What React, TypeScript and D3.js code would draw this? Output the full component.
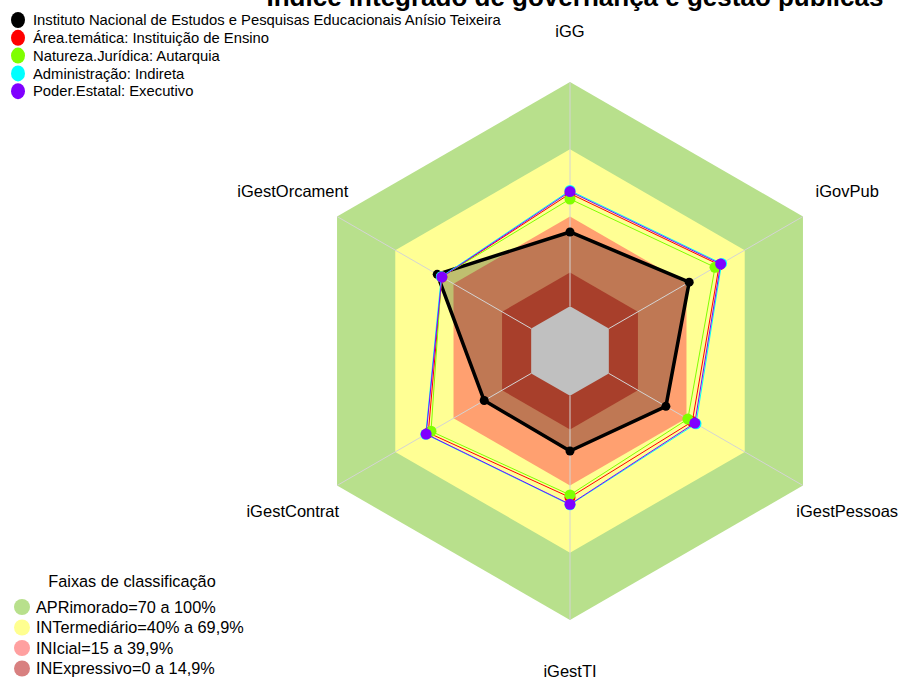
import { useEffect, useRef } from 'react';
import * as d3 from 'd3';

const axes = ['iGG', 'iGovPub', 'iGestPessoas', 'iGestTI', 'iGestContrat', 'iGestOrcament'];

const seriesNames = [
  'Instituto Nacional de Estudos e Pesquisas Educacionais Anísio Teixeira',
  'Área.temática: Instituição de Ensino',
  'Natureza.Jurídica: Autarquia',
  'Administração: Indireta',
  'Poder.Estatal: Executivo',
];
const seriesColors = ['#000000', '#ff0000', '#7fff00', '#00ffff', '#8000ff'];

const inep = [33.1, 41.4, 29.4, 24.6, 24.2, 48.4];
const areaTematica = [50.2, 56.9, 43.0, 45.3, 53.0, 46.0];
const natureza = [47.8, 54.7, 40.7, 44.2, 51.6, 46.2];
const administracao = [51.6, 58.1, 44.9, 48.6, 54.3, 46.3];
const poder = [51.1, 57.6, 44.3, 48.4, 54.1, 46.0];
const seriesValues = [inep, areaTematica, natureza, administracao, poder];

const bandLimits = [100, 70, 40, 15, 0];
const bandFills = ['#b8e08c', '#ffff94', '#ffa070', '#e0553a', '#c0c0c0'];

const faixaLabels = [
  'APRimorado=70 a 100%',
  'INTermediário=40% a 69,9%',
  'INIcial=15 a 39,9%',
  'INExpressivo=0 a 14,9%',
];
const faixaColors = ['#b8e08c', '#ffff90', '#ffa0a0', '#d88080'];

export default function App() {
  const svgRef = useRef<SVGSVGElement>(null);

  useEffect(() => {
    if (!svgRef.current) return;
    const width = 903;
    const height = 682;
    const cx = 570;
    const cy = 351;
    const R = 269;

    const svg = d3.select(svgRef.current);
    svg.selectAll('*').remove();
    svg.attr('width', width).attr('height', height)
      .style('font-family', '"Liberation Sans", Arial, sans-serif');

    const r = d3.scaleLinear().domain([0, 100]).range([R / 6, R]);
    const angle = d3.scaleLinear().domain([0, axes.length]).range([-Math.PI / 2, 1.5 * Math.PI]);
    const pt = (v: number, i: number): [number, number] =>
      [cx + r(v) * Math.cos(angle(i)), cy + r(v) * Math.sin(angle(i))];
    const ring = (v: number) => axes.map((_, i) => pt(v, i));
    const line = d3.line<[number, number]>().curve(d3.curveLinearClosed);

    const g = svg.append('g');

    // faixas
    bandLimits.forEach((b, k) => {
      if (k === bandLimits.length - 1) return;
      g.append('path').attr('d', line(ring(b))).attr('fill', bandFills[k]);
    });

    // INEP fill (translucent)
    g.append('path')
      .attr('d', line(inep.map((v, i) => pt(v, i))))
      .attr('fill', 'rgba(0,0,0,0.25)');

    g.append('path').attr('d', line(ring(0))).attr('fill', bandFills[4]);

    // axis lines
    axes.forEach((_, i) => {
      const [x0, y0] = pt(0, i);
      const [x1, y1] = pt(100, i);
      g.append('line').attr('x1', x0).attr('y1', y0).attr('x2', x1).attr('y2', y1)
        .attr('stroke', '#d4d4d4').attr('stroke-width', 1);
    });

    // series
    seriesValues.forEach((vals, s) => {
      const pts = vals.map((v, i) => pt(v, i));
      g.append('path').attr('d', line(pts)).attr('fill', 'none')
        .attr('stroke', seriesColors[s]).attr('stroke-width', s === 0 ? 3.5 : 1)
        .attr('stroke-linejoin', 'round');
      g.selectAll(null).data(pts).enter().append('circle')
        .attr('cx', d => d[0]).attr('cy', d => d[1])
        .attr('r', s === 0 ? 4.5 : 5.5)
        .attr('fill', seriesColors[s]);
    });

    // axis labels
    axes.forEach((a, i) => {
      const ang = angle(i);
      svg.append('text')
        .attr('x', cx + R * 1.19 * Math.cos(ang))
        .attr('y', cy + R * 1.19 * Math.sin(ang))
        .attr('dy', '0.35em')
        .attr('text-anchor', 'middle')
        .style('font-size', '16.5px')
        .text(a);
    });

    // title (cut at the top edge, as in the source)
    svg.append('text')
      .attr('x', 575).attr('y', 6)
      .attr('text-anchor', 'middle')
      .style('font-size', '26px').style('font-weight', 'bold')
      .text('Índice integrado de governança e gestão públicas');

    // series legend
    seriesNames.forEach((n, s) => {
      const y = 20 + s * 17.8;
      svg.append('ellipse').attr('cx', 18).attr('cy', y).attr('rx', 7).attr('ry', 8)
        .attr('fill', seriesColors[s]);
      svg.append('text').attr('x', 33).attr('y', y).attr('dy', '0.35em')
        .style('font-size', '14.8px').text(n);
    });

    // faixas legend
    svg.append('text').attr('x', 132).attr('y', 587).attr('text-anchor', 'middle')
      .style('font-size', '16.3px').text('Faixas de classificação');
    faixaLabels.forEach((l, k) => {
      const y = 607 + k * 20.5;
      svg.append('circle').attr('cx', 22).attr('cy', y).attr('r', 8).attr('fill', faixaColors[k]);
      svg.append('text').attr('x', 36).attr('y', y).attr('dy', '0.35em')
        .style('font-size', '16.3px').text(l);
    });
  }, []);

  return <svg ref={svgRef} style={{ position: 'absolute', left: 0, top: 0 }}></svg>;
}
